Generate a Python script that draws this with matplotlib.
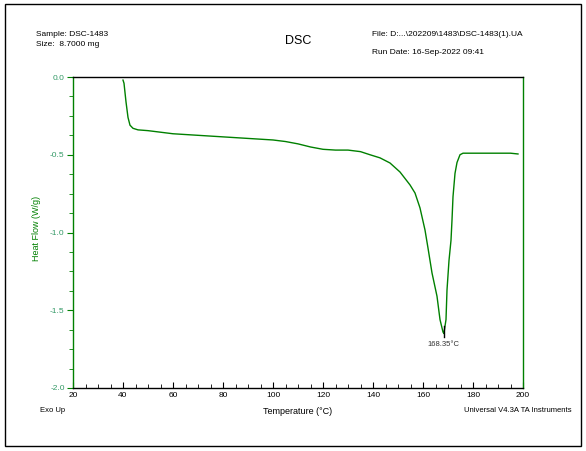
import matplotlib
matplotlib.use("Agg")
from matplotlib import pyplot as plt
from matplotlib.ticker import MultipleLocator
from matplotlib.patches import Rectangle

plt.rcParams['font.family'] = ['Liberation Sans', 'DejaVu Sans']

# DSC curve
temp = [40.0, 40.4, 40.8, 41.2, 41.6, 42.0, 42.8, 44.0, 46.0, 50.0, 55.0, 60.0, 70.0,
        80.0, 90.0, 100.0, 105.0, 110.0, 115.0, 120.0, 125.0, 130.0, 135.0, 138.8,
        142.8, 146.8, 150.8, 154.8, 156.8, 158.8, 160.8, 162.0, 163.6, 165.6, 166.8,
        168.0, 168.35, 169.2, 169.6, 170.4, 171.2, 171.6, 172.0, 172.8, 173.6,
        174.8, 176.0, 180.0, 185.0, 190.0, 195.0, 198.0]
heat_flow = [-0.02, -0.04, -0.10, -0.16, -0.21, -0.26, -0.31, -0.33, -0.34, -0.345,
             -0.355, -0.365, -0.375, -0.385, -0.395, -0.405, -0.415, -0.43, -0.45,
             -0.465, -0.47, -0.47, -0.48, -0.50, -0.52, -0.553, -0.611, -0.694,
             -0.746, -0.842, -0.984, -1.10, -1.26, -1.41, -1.56, -1.64, -1.65, -1.56,
             -1.37, -1.18, -1.05, -0.92, -0.77, -0.62, -0.55, -0.50, -0.49, -0.49,
             -0.49, -0.49, -0.49, -0.495]
peak_t = 168.35
peak_h = -1.65

fig = plt.figure(figsize=(5.86, 4.51), dpi=100)
fig.patches.append(Rectangle((5 / 586, 5 / 451), 576 / 586, 442 / 451,
                             transform=fig.transFigure, fill=False,
                             edgecolor='black', linewidth=1.0))

ax = fig.add_axes([73 / 586, 1 - 388 / 451, 450 / 586, 311 / 451])
green = '#008000'
ax.plot(temp, heat_flow, color=green, linewidth=1.0)
ax.plot([peak_t, peak_t], [peak_h - 0.02, peak_h + 0.05], color='black', linewidth=1.0)
ax.text(peak_t, peak_h - 0.05, f"{peak_t:.2f}°C", ha='center', va='top', fontsize=5.5,
        color='#333333')

ax.set_xlim(20, 200)
ax.set_ylim(-2.0, 0.0)
ax.xaxis.set_major_locator(MultipleLocator(20))
ax.xaxis.set_minor_locator(MultipleLocator(5))
ax.yaxis.set_major_locator(MultipleLocator(0.5))
ax.yaxis.set_minor_locator(MultipleLocator(0.125))
ax.set_yticks([0.0, -0.5, -1.0, -1.5, -2.0])
ax.set_yticklabels(["0.0", "-0.5", "-1.0", "-1.5", "-2.0"])

ax.spines['left'].set_color(green)
ax.spines['right'].set_color(green)
ax.spines['top'].set_color('black')
ax.spines['bottom'].set_color('black')
for s in ax.spines.values():
    s.set_linewidth(1.0)

ax.tick_params(axis='x', which='both', direction='in', labelsize=6, pad=3, color='black')
ax.tick_params(axis='x', which='major', length=4)
ax.tick_params(axis='x', which='minor', length=3)
ax.tick_params(axis='y', which='both', direction='out', labelsize=6, pad=2,
               color=green, labelcolor='#339966')
ax.tick_params(axis='y', which='major', length=4)
ax.tick_params(axis='y', which='minor', length=3)

ax.set_ylabel("Heat Flow (W/g)", color=green, fontsize=6.5)
ax.yaxis.set_label_coords(-0.072, 0.514)

fig.text(36 / 586, 1 - 35 / 451, "Sample: DSC-1483", fontsize=6, va='center')
fig.text(36 / 586, 1 - 44 / 451, "Size:  8.7000 mg", fontsize=6, va='center')
fig.text(298 / 586, 1 - 41 / 451, "DSC", fontsize=9, ha='center', va='center')
fig.text(372 / 586, 1 - 34 / 451, "File: D:...\\202209\\1483\\DSC-1483(1).UA", fontsize=6, va='center')
fig.text(372 / 586, 1 - 52 / 451, "Run Date: 16-Sep-2022 09:41", fontsize=6, va='center')
fig.text(40 / 586, 1 - 411 / 451, "Exo Up", fontsize=5.5, va='center')
fig.text(298 / 586, 1 - 411 / 451, "Temperature (°C)", fontsize=6.5, ha='center', va='center')
fig.text(572 / 586, 1 - 411 / 451, "Universal V4.3A TA Instruments", fontsize=5.5, ha='right', va='center')

fig.savefig("out.png", dpi=100)
